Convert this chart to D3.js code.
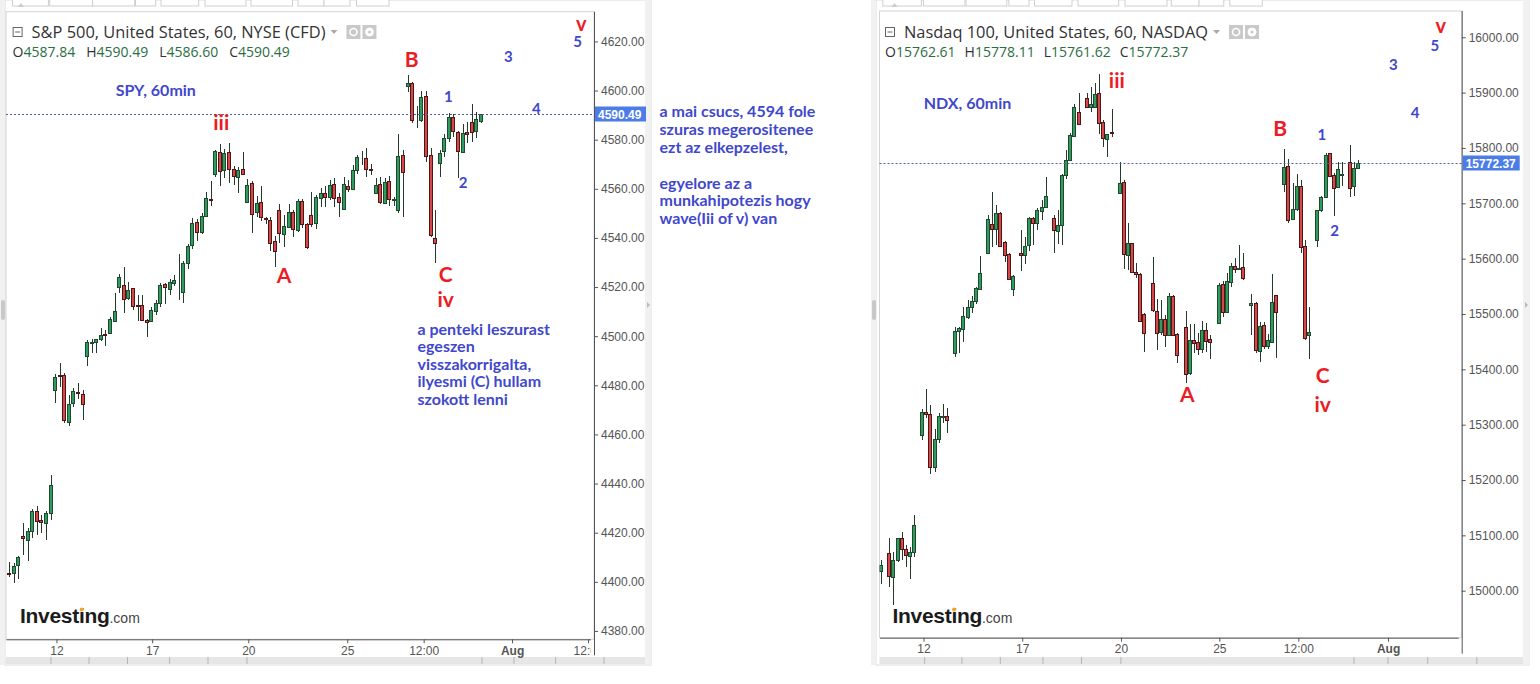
<!DOCTYPE html>
<html>
<head>
<meta charset="utf-8">
<script src="https://cdn.jsdelivr.net/npm/d3@7"></script>
<style>
  body { margin: 0; background: #fff; }
  svg { display: block; }
</style>
</head>
<body>
<svg id="chart" width="1540" height="684"></svg>
<script>
// S&P 500 hourly bars, [open, high, low, close] (Jul 10 tail .. Jul 31)
const spxBars = [
  [4403.5, 4408, 4402, 4403], [4403.7, 4407.8, 4399.6, 4406.4], [4406.8, 4410.5, 4401, 4410],
  [4418.5, 4424, 4411, 4417.5], [4417, 4422, 4408.5, 4420.5], [4421, 4429.5, 4418, 4429],
  [4429, 4431, 4419, 4425], [4425, 4427, 4420, 4424], [4424, 4429, 4417, 4428],
  [4428, 4443.5, 4425, 4439.5],
  // Jul 12
  [4478.4, 4484.6, 4472.9, 4483.5], [4484.2, 4489, 4479.5, 4483.8], [4484, 4485, 4464.5, 4465.6],
  [4465, 4476, 4463.6, 4472.4], [4472.7, 4479, 4471, 4477.6], [4477.3, 4481, 4474.6, 4476.8],
  [4476.4, 4478, 4466, 4472.3],
  // Jul 13
  [4492, 4498.5, 4488, 4497.6], [4497.3, 4498.8, 4493, 4497.8], [4497.6, 4499, 4493, 4498.8],
  [4498.6, 4503.3, 4498, 4500.4], [4500.8, 4502.5, 4496, 4500.4], [4501, 4507.7, 4500.8, 4506.9],
  [4506.3, 4517.7, 4506, 4510.3],
  // Jul 14
  [4519.8, 4525.2, 4517.7, 4524], [4520.9, 4528, 4509.6, 4515.4], [4515.8, 4522, 4514.8, 4519],
  [4519.5, 4519.8, 4510.7, 4512.3], [4512.5, 4516.8, 4506.3, 4512], [4512.6, 4516.8, 4506, 4506.3],
  [4506.5, 4507, 4499.8, 4505.5],
  // Jul 17
  [4506.3, 4512, 4506, 4510.6], [4510.2, 4514.8, 4508.5, 4513.6], [4513.6, 4521.5, 4511.8, 4521],
  [4521.3, 4521.8, 4513, 4520], [4519.5, 4523.2, 4516.8, 4522.2], [4521.8, 4525, 4520.4, 4522.9],
  [4523.3, 4533.5, 4514.8, 4523.1],
  // Jul 18
  [4517.7, 4530.5, 4513.5, 4529.7], [4529.7, 4537.4, 4527.5, 4536.7], [4537.1, 4548, 4535.4, 4546],
  [4546.5, 4547.6, 4538.8, 4542.6], [4542.6, 4550, 4541.5, 4549], [4549, 4558.7, 4548.4, 4556.2],
  [4555.7, 4563, 4553, 4555.3],
  // Jul 19
  [4565.8, 4576, 4565, 4575.3], [4575, 4578.3, 4561.3, 4567.4], [4567.4, 4576.1, 4564.4, 4574.5],
  [4575, 4578.5, 4562.5, 4568], [4568, 4569.3, 4561.5, 4565], [4564.7, 4568.8, 4558.4, 4567.7],
  [4568, 4575, 4565.8, 4566],
  // Jul 20
  [4554.8, 4564, 4554.4, 4561.6], [4562.5, 4563, 4542, 4550], [4550.3, 4557, 4548.4, 4554.1],
  [4554.6, 4561.2, 4547, 4548.4], [4548, 4548.4, 4545.5, 4547.6], [4547.3, 4548.4, 4534.8, 4538],
  [4538.8, 4540.8, 4528.3, 4534.8],
  // Jul 21
  [4551.4, 4553.8, 4538.1, 4541.9], [4541.6, 4549.4, 4536.2, 4544.9], [4544.6, 4553.8, 4544, 4550.6],
  [4550.6, 4551.4, 4540.5, 4543.5], [4543.3, 4556, 4542.5, 4555.2], [4555.2, 4556, 4544, 4545.7],
  [4545.7, 4546.2, 4535.6, 4536.4],
  // Jul 24
  [4549.5, 4558.8, 4544.3, 4545.7], [4546, 4557.4, 4543.7, 4556.6], [4556.2, 4560.5, 4552.4, 4558.2],
  [4558.4, 4561, 4552.6, 4556.8], [4556.8, 4563.5, 4555.5, 4561.6], [4562, 4564.3, 4552.5, 4556.2],
  [4556.8, 4558.4, 4548.6, 4554.8],
  // Jul 25
  [4551.7, 4564.7, 4551.2, 4562], [4561.2, 4563.5, 4558.7, 4559.8], [4559.8, 4569.7, 4559.5, 4567.7],
  [4567.7, 4573.8, 4566, 4572.8], [4572.2, 4575.5, 4569.7, 4572], [4572.4, 4576.5, 4565, 4568],
  [4568, 4570, 4565.5, 4567.4],
  // Jul 26
  [4558.4, 4564.3, 4558, 4561.5], [4562, 4565, 4553.8, 4554.8], [4554.4, 4564.3, 4554, 4562.8],
  [4563, 4565.3, 4552.8, 4555.7], [4555.7, 4556.5, 4553, 4556], [4551.4, 4582.3, 4550.3, 4573.4],
  [4573.8, 4575.8, 4548.7, 4567],
  // Jul 27
  [4601.6, 4606.4, 4599.6, 4603], [4603, 4603.6, 4586.7, 4588], [4588.5, 4593.7, 4584.7, 4588.3],
  [4588, 4600, 4587.3, 4597.3], [4597.8, 4600, 4571, 4573.5], [4573.8, 4576.6, 4540.5, 4541.2],
  [4539.9, 4551.4, 4529.7, 4537.8],
  // Jul 28
  [4570.6, 4575.8, 4565, 4574.5], [4575.5, 4582.3, 4572.8, 4580.6], [4581, 4591, 4579.2, 4589.4],
  [4589.4, 4590.5, 4581, 4583.7], [4583.3, 4583.6, 4564.3, 4575.5], [4575.1, 4586.4, 4575.1, 4582.9],
  [4583.3, 4587, 4578.5, 4582.6],
  // Jul 31
  [4587.3, 4594.5, 4579.2, 4583.3], [4583.3, 4591.2, 4580.6, 4588.3], [4587.84, 4590.49, 4586.60, 4590.49]
];

// Nasdaq 100 hourly bars, [open, high, low, close] (8 bars a day incl. 16:00 print)
const ndxBars = [
  [15036, 15055, 15012, 15046], [15046, 15046, 15046, 15046],
  // Jul 11
  [15067.6, 15094.7, 15006, 15025.3], [15025.3, 15070.5, 14974.2, 15055.5], [15055.5, 15096, 15051, 15094.7],
  [15094.7, 15106.6, 15055.5, 15074.8], [15074.8, 15082.6, 15042.3, 15063.3], [15063.3, 15079.5, 15020.6, 15070.5],
  [15070.5, 15136.8, 15060.4, 15118.7], [15120.5, 15120.5, 15120.5, 15120.5],
  // Jul 12
  [15280, 15327.8, 15272.3, 15322.4], [15322.4, 15364, 15311.5, 15318], [15319.3, 15335.6, 15210.9, 15223],
  [15223, 15291.7, 15215, 15273.6], [15273.6, 15320.5, 15266.3, 15315.7], [15315, 15337.4, 15303.6, 15316],
  [15315.7, 15329.6, 15285.5, 15308.5], [15308.5, 15308.5, 15308.5, 15308.5],
  // Jul 13
  [15430, 15477, 15422.8, 15469.6], [15468, 15477, 15429, 15474], [15472.4, 15513.2, 15450, 15496.4],
  [15495, 15525, 15491, 15513.2], [15513.2, 15532.5, 15501, 15524], [15524, 15549, 15518, 15547],
  [15544.6, 15604.8, 15543.4, 15573.5], [15573.5, 15573.5, 15573.5, 15573.5],
  // Jul 14
  [15609.7, 15678.9, 15608.4, 15671], [15662.6, 15721, 15621.6, 15653], [15653, 15697, 15624.7, 15682],
  [15682, 15684, 15621.6, 15622.9], [15630.6, 15632, 15594.5, 15606.6], [15608.4, 15610, 15561, 15562.7],
  [15545.2, 15570.4, 15532.5, 15569.2], [15566.3, 15566.3, 15566.3, 15566.3],
  // Jul 17
  [15610.8, 15651.8, 15578, 15607.2], [15606.6, 15639, 15591, 15622.9], [15624.7, 15676, 15613, 15673],
  [15673, 15676, 15624, 15664], [15664, 15691, 15651, 15688], [15686.7, 15706, 15670, 15693.9],
  [15692.8, 15748, 15691, 15713], [15714.5, 15714.5, 15714.5, 15714.5],
  // Jul 18
  [15673, 15679, 15610.8, 15651.8], [15650.6, 15688, 15626, 15660.8], [15660.8, 15753, 15624.7, 15751.2],
  [15751.2, 15796.4, 15743.4, 15778.3], [15778.3, 15827, 15776, 15823.5], [15821.7, 15879.5, 15819.3, 15873.5],
  [15865.6, 15898.8, 15843, 15843.4], [15843.3, 15843.3, 15843.3, 15843.3],
  // Jul 19
  [15889.8, 15898.8, 15871.7, 15873.5], [15873.5, 15910.7, 15865.6, 15879.5], [15873.5, 15917.5, 15871.7, 15897.5],
  [15898.8, 15933.7, 15825.3, 15844.6], [15847, 15850.6, 15801.4, 15817.5], [15816.9, 15825.3, 15784.2, 15825.3],
  [15829, 15870, 15820, 15827], [15829, 15829, 15829, 15829],
  // Jul 20
  [15719.2, 15775.2, 15718, 15737.3], [15739, 15742, 15581, 15609.7], [15606.6, 15663.9, 15579.5, 15627.8],
  [15627.8, 15629, 15573.5, 15574.7], [15576, 15593, 15564.5, 15572.5], [15572.3, 15574, 15486, 15488],
  [15500, 15502, 15432, 15466], [15467, 15467, 15467, 15467],
  // Jul 21
  [15555.5, 15603.5, 15504.2, 15507.2], [15506, 15527.6, 15435, 15466.2], [15466.2, 15525.3, 15462, 15490.4],
  [15490.4, 15498, 15439.8, 15462], [15462, 15538.5, 15460.8, 15532.5], [15532.5, 15535, 15460, 15462],
  [15463.9, 15465, 15412, 15426], [15426.5, 15426.5, 15426.5, 15426.5],
  // Jul 24
  [15476, 15506, 15376, 15391.6], [15392.8, 15482, 15389.8, 15453], [15453, 15482, 15429, 15448],
  [15450, 15465, 15426, 15437.3], [15437.3, 15488, 15429, 15471], [15471, 15483, 15432, 15451.8],
  [15454.8, 15462, 15418, 15450], [15449, 15449, 15449, 15449],
  // Jul 25
  [15483.2, 15555.5, 15482, 15552.4], [15554.2, 15560, 15494, 15504.2], [15504.2, 15574.6, 15502, 15559.6],
  [15558.4, 15592.7, 15549, 15586.7], [15586.7, 15600.6, 15574.6, 15580.8], [15580, 15624.7, 15579.5, 15582.6],
  [15584.4, 15609.7, 15561.4, 15564.5], [15562.7, 15562.7, 15562.7, 15562.7],
  // Jul 26
  [15515.7, 15536, 15462, 15519.3], [15519.3, 15522.2, 15429, 15433.7], [15433.7, 15486, 15413.8, 15478.3],
  [15480, 15486, 15437, 15442], [15442.2, 15464.6, 15437.3, 15453], [15450, 15572.3, 15448, 15522.2],
  [15533.8, 15535, 15420, 15502.4], [15499.5, 15499.5, 15499.5, 15499.5],
  // Jul 27
  [15736.2, 15797.6, 15721, 15766.1], [15767.4, 15779.5, 15665, 15669.9], [15671, 15736, 15669.9, 15689.2],
  [15689.2, 15753, 15686.7, 15731.3], [15731.3, 15742, 15610.8, 15621.6], [15622.9, 15633.7, 15453, 15456.1],
  [15462.2, 15513.2, 15418.2, 15468], [15465, 15465, 15465, 15465],
  // Jul 28
  [15633.7, 15688, 15620.6, 15688], [15688, 15713, 15685, 15711], [15712, 15790.4, 15711, 15787.3],
  [15790.4, 15791, 15747, 15749.3], [15751.2, 15754.2, 15677, 15728.2], [15728.2, 15775.2, 15728.2, 15761.4],
  [15752, 15775.2, 15731.3, 15753], [15752.4, 15752.4, 15752.4, 15752.4],
  // Jul 31
  [15775.2, 15805.4, 15712, 15728.2], [15730, 15775.2, 15713.2, 15763.3], [15762.61, 15778.11, 15761.62, 15772.37]
];

const spxPriceTicks = [4380, 4400, 4420, 4440, 4460, 4480, 4500, 4520, 4540, 4560, 4580, 4600, 4620];
const ndxPriceTicks = [15000, 15100, 15200, 15300, 15400, 15500, 15600, 15700, 15800, 15900, 16000];

// time axis: bar index of each label
const spxTimeIdx = [10.3, 31.2, 52.2, 73.8, 90.5, 109.8, 126.4];
const spxTimeLabels = ["12", "17", "20", "25", "12:00", "Aug", "12:00"];
const ndxTimeIdx = [10.3, 34.3, 58.3, 82.2, 101.4, 123.2];
const ndxTimeLabels = ["12", "17", "20", "25", "12:00", "Aug"];

// hand drawn wave marks: text, bar index, baseline price
const spxWaveText = ["iii", "A", "B", "C", "iv", "1", "2", "3", "4", "5", "v"];
const spxWaveIdx = [46.3, 60.0, 87.9, 95.3, 95.3, 95.9, 99.1, 109.0, 115.1, 124.1, 124.9];
const spxWavePrice = [4584.0, 4521.8, 4609.5, 4522.2, 4512.0, 4595.5, 4560.2, 4611.8, 4590.4, 4617.6, 4624.2];

const ndxWaveText = ["iii", "A", "B", "C", "iv", "1", "2", "3", "4", "5", "v"];
const ndxWaveIdx = [57.3, 74.4, 97.0, 107.3, 107.3, 107.1, 110.2, 124.5, 129.8, 134.6, 136.0];
const ndxWavePrice = [15907.8, 15341.5, 15821.6, 15374.8, 15323.5, 15814.4, 15640.9, 15940.9, 15853.6, 15975.8, 16007.2];

const spxNote = ["a penteki leszurast", "egeszen", "visszakorrigalta,", "ilyesmi (C) hullam", "szokott lenni"];
const sideNote = ["a mai csucs, 4594 fole", "szuras megerositenee", "ezt az elkepzelest,", "",
                  "egyelore az a", "munkahipotezis hogy", "wave(Iii of v) van"];

const BLUE = "#3f48cc", RED = "#ed1c24";
const svg = d3.select("#chart");
const fmt = d3.format(".2f");

function drawPanel(p) {
  const g = svg.append("g");
  const x = d3.scaleLinear().domain(p.xDomain).range([p.x0, p.x1]);
  const y = d3.scaleLinear().domain(p.yDomain).range([p.y1, p.y0]);

  // outer frame and side strips
  g.append("rect").attr("x", p.fx).attr("y", 0).attr("width", p.fw).attr("height", 665)
    .attr("fill", "#fff").attr("stroke", "#dcdcdc");
  g.append("rect").attr("x", p.fx - 5).attr("y", 0).attr("width", 5).attr("height", 665).attr("fill", "#f1f1f1");
  g.append("rect").attr("x", p.fx - 4).attr("y", 300).attr("width", 4).attr("height", 20).attr("rx", 2).attr("fill", "#c8c8c8");
  g.append("rect").attr("x", p.fx + p.fw - 6).attr("y", 0).attr("width", 6).attr("height", 665).attr("fill", "#f1f1f1");
  g.append("path").attr("d", `M${p.fx + p.fw - 4},302l3,3l-3,3z`).attr("fill", "#bbb");

  // top toolbar buttons
  p.toolbar.forEach(([a, b]) => {
    g.append("rect").attr("x", p.x0 + a).attr("y", -2).attr("width", b - a).attr("height", 8)
      .attr("fill", "#fff").attr("stroke", "#cfcfcf");
  });
  g.append("path").attr("d", `M${p.x0 + 12},7l3,-4l3,4z`).attr("fill", "#ccc");

  // plot box
  g.append("rect").attr("x", p.x0).attr("y", p.y0).attr("width", p.x1 - p.x0).attr("height", p.y1 - p.y0)
    .attr("fill", "#fff").attr("stroke", "#d4d4d4");

  // bottom gray strip with separators
  g.append("rect").attr("x", p.x0).attr("y", 657).attr("width", p.fx + p.fw - 6 - p.x0).attr("height", 7).attr("fill", "#e6e6e6");
  p.dividers.forEach(d => {
    g.append("line").attr("x1", p.x0 + d).attr("x2", p.x0 + d).attr("y1", 657).attr("y2", 664).attr("stroke", "#b5b5b5");
  });

  // y axis
  const yAxis = d3.axisRight(y).tickValues(p.priceTicks).tickFormat(fmt).tickSize(4).tickSizeOuter(0).tickPadding(3);
  const ya = g.append("g").attr("transform", `translate(${p.x1},0)`).call(yAxis);
  ya.select(".domain").remove();
  ya.selectAll(".tick line").attr("stroke", "#555");
  ya.selectAll("text").attr("fill", "#555").attr("font-size", 12).attr("font-family", "Liberation Sans, Arial, sans-serif");
  g.append("line").attr("x1", p.x1 + 0.5).attr("x2", p.x1 + 0.5).attr("y1", p.y0).attr("y2", p.y1 + 16).attr("stroke", "#555");

  // x axis (labels clipped at the price axis)
  const clipId = "clip-x-" + p.key;
  svg.append("clipPath").attr("id", clipId).append("rect")
    .attr("x", p.x0).attr("y", p.y1 - 2).attr("width", p.x1 - p.x0 - 3).attr("height", 24);
  const xAxis = d3.axisBottom(x).tickValues(p.timeIdx).tickFormat((d, i) => p.timeLabels[i])
    .tickSize(4).tickSizeOuter(0).tickPadding(3);
  const xa = g.append("g").attr("clip-path", `url(#${clipId})`)
    .append("g").attr("transform", `translate(0,${p.y1})`).call(xAxis);
  xa.select(".domain").attr("stroke", "#555");
  xa.selectAll(".tick line").attr("stroke", "#555");
  xa.selectAll("text").attr("fill", "#555").attr("font-size", 12).attr("font-family", "Liberation Sans, Arial, sans-serif")
    .attr("font-weight", (d, i) => p.timeLabels[i] === "Aug" ? "bold" : null);

  // candles
  const rows = p.bars.map((d, i) => ({ i, o: d[0], h: d[1], l: d[2], c: d[3] }));
  const plotClip = "clip-p-" + p.key;
  svg.append("clipPath").attr("id", plotClip).append("rect")
    .attr("x", p.x0).attr("y", p.y0).attr("width", p.x1 - p.x0).attr("height", p.y1 - p.y0);
  const cg = g.append("g").attr("clip-path", `url(#${plotClip})`).attr("shape-rendering", "crispEdges");
  const candle = cg.selectAll("g.candle").data(rows).join("g").attr("class", "candle");
  const cx = d => Math.round(x(d.i));
  candle.filter(d => d.h > d.l).append("line")
    .attr("x1", d => cx(d) + 0.5).attr("x2", d => cx(d) + 0.5)
    .attr("y1", d => y(d.h)).attr("y2", d => y(d.l)).attr("stroke", "#263a2c");
  candle.append("rect")
    .attr("x", d => cx(d) - 1.5).attr("width", 3)
    .attr("y", d => Math.round(y(Math.max(d.o, d.c))) + 0.5)
    .attr("height", d => Math.max(0, Math.round(Math.abs(y(d.o) - y(d.c)))))
    .attr("fill", d => d.c > d.o ? "#2e9c5e" : (d.c < d.o ? "#d64848" : "#333"))
    .attr("stroke", d => d.c > d.o ? "#1f4a2e" : (d.c < d.o ? "#4e1616" : "#333"));

  // last price line and label
  const last = p.bars[p.bars.length - 1];
  const ly = Math.round(y(last[3])) + 0.5;
  g.append("line").attr("x1", p.x0).attr("x2", p.x1).attr("y1", ly).attr("y2", ly)
    .attr("stroke", "#4a5f9c").attr("stroke-dasharray", "2,2");
  g.append("rect").attr("x", p.x1 + 1).attr("y", ly - 8).attr("width", p.tagW).attr("height", 15).attr("fill", "#4c7de6");
  g.append("text").attr("x", p.x1 + 4).attr("y", ly + 4).text(fmt(last[3]))
    .attr("fill", "#fff").attr("font-size", 12).attr("font-weight", "bold").attr("font-family", "Liberation Sans, Arial, sans-serif");

  // header
  const hx = p.x0 + p.headX;
  g.append("rect").attr("x", hx + 0.5).attr("y", 27.5).attr("width", 9).attr("height", 9).attr("fill", "none").attr("stroke", "#666");
  g.append("line").attr("x1", hx + 2.5).attr("x2", hx + 7.5).attr("y1", 32).attr("y2", 32).attr("stroke", "#666");
  const title = g.append("text").attr("x", hx + 19).attr("y", 37.5).text(p.title)
    .attr("fill", "#333").attr("font-size", 16.4).attr("font-family", "Open Sans, sans-serif");
  const tEnd = hx + 19 + title.node().getComputedTextLength();
  g.append("path").attr("d", `M${tEnd + 5},30l7,0l-3.5,4z`).attr("fill", "#aaa");
  [0, 1].forEach(k => {
    const bx = tEnd + 21 + k * 16;
    g.append("rect").attr("x", bx).attr("y", 25).attr("width", 14).attr("height", 14).attr("fill", "#c9c9c9");
    g.append("circle").attr("cx", bx + 7).attr("cy", 32).attr("r", k ? 4 : 3.5)
      .attr("fill", k ? "#fff" : "none").attr("stroke", "#fff").attr("stroke-width", k ? 1 : 1.6);
    if (k) g.append("circle").attr("cx", bx + 7).attr("cy", 32).attr("r", 1.5).attr("fill", "#c9c9c9");
  });
  let ox = hx;
  ["O", "H", "L", "C"].forEach((k, j) => {
    const t = g.append("text").attr("x", ox).attr("y", 57).attr("font-size", 14).attr("font-family", "Open Sans, sans-serif");
    t.append("tspan").attr("fill", "#333").text(k);
    t.append("tspan").attr("fill", "#2b6e3f").text(fmt(last[j]));
    ox += t.node().getComputedTextLength() + p.ohlcGap;
  });

  // logo
  const logo = g.append("text").attr("x", p.x0 + p.logoX).attr("y", 623).attr("font-family", "Liberation Sans, Arial, sans-serif");
  logo.append("tspan").text("Investing").attr("font-size", 21).attr("font-weight", "bold").attr("fill", "#1b1b1b").attr("letter-spacing", -0.3);
  logo.append("tspan").text(".com").attr("font-size", 14).attr("fill", "#444");
  const iBox = logo.node().getExtentOfChar(6);
  g.append("circle").attr("cx", iBox.x + iBox.width / 2).attr("cy", iBox.y + 5.5).attr("r", 2).attr("fill", "#f5a623");

  // wave labels
  p.waveText.forEach((t, i) => {
    const digit = /\d/.test(t);
    g.append("text").attr("x", x(p.waveIdx[i])).attr("y", y(p.wavePrice[i])).attr("text-anchor", "middle")
      .text(t).attr("fill", digit ? BLUE : RED).attr("font-weight", "bold")
      .attr("font-size", digit ? 15 : (t === "v" ? 20 : 21)).attr("font-family", "Lato, sans-serif");
  });
  g.append("text").attr("x", x(p.nameIdx)).attr("y", y(p.namePrice)).attr("text-anchor", "middle").text(p.name)
    .attr("fill", BLUE).attr("font-weight", "bold").attr("font-size", 16).attr("font-family", "Lato, sans-serif");

  return { x, y, g };
}

const spx = drawPanel({
  key: "spx", title: "S&P 500, United States, 60, NYSE (CFD)", name: "SPY, 60min", nameIdx: 32.0, namePrice: 4597.8,
  bars: spxBars, priceTicks: spxPriceTicks, timeIdx: spxTimeIdx, timeLabels: spxTimeLabels,
  waveText: spxWaveText, waveIdx: spxWaveIdx, wavePrice: spxWavePrice,
  fx: 5, fw: 646, x0: 6, x1: 594, y0: 11.7, y1: 639.3,
  xDomain: [-0.72, 127.7], yDomain: [4376.6, 4632.1],
  tagW: 51, headX: 6.6, ohlcGap: 11, logoX: 14,
  toolbar: [[6.6, 42.4], [43.7, 86.6], [86.6, 128.7], [129.5, 149.7], [155, 192.7], [199, 240], [245, 286.5], [292, 318], [318, 344], [350.5, 383]],
  dividers: [45, 83, 121.5, 163.6, 202, 241, 476, 508, 549.6, 598]
});

drawPanel({
  key: "ndx", title: "Nasdaq 100, United States, 60, NASDAQ", name: "NDX, 60min", nameIdx: 21.0, namePrice: 15870.4,
  bars: ndxBars, priceTicks: ndxPriceTicks, timeIdx: ndxTimeIdx, timeLabels: ndxTimeLabels,
  waveText: ndxWaveText, waveIdx: ndxWaveIdx, wavePrice: ndxWavePrice,
  fx: 876, fw: 653, x0: 879.5, x1: 1461.7, y0: 11, y1: 637.7,
  xDomain: [-0.39, 141.1], yDomain: [14915.1, 16047.5],
  tagW: 57, headX: 5.5, ohlcGap: 9, logoX: 13,
  toolbar: [[3.3, 41.8], [43.9, 85.4], [86.5, 127.3], [129.4, 149.5], [155, 192.5], [198.5, 239.2], [245.5, 287.5], [291.8, 319.5], [319.5, 344.3], [350.3, 382.8]],
  dividers: [45.2, 82.4, 120.8, 163.5, 202, 241.4, 474.5, 508.5, 548.2, 597.3]
});

// note inside the S&P chart, below the C/iv mark
const note = spx.g.append("text").attr("font-family", "Lato, sans-serif").attr("font-weight", "bold")
  .attr("font-size", 16).attr("fill", BLUE);
spxNote.forEach((t, i) => {
  note.append("tspan").attr("x", spx.x(89.15)).attr("y", spx.y(4500.5) + i * 17.5).text(t);
});

// comment between the two charts
const side = svg.append("text").attr("font-family", "Lato, sans-serif").attr("font-weight", "bold")
  .attr("font-size", 16).attr("fill", BLUE);
sideNote.forEach((t, i) => {
  if (t) side.append("tspan").attr("x", 659.5).attr("y", 116.7 + i * 17.95).text(t);
});
</script>
</body>
</html>
